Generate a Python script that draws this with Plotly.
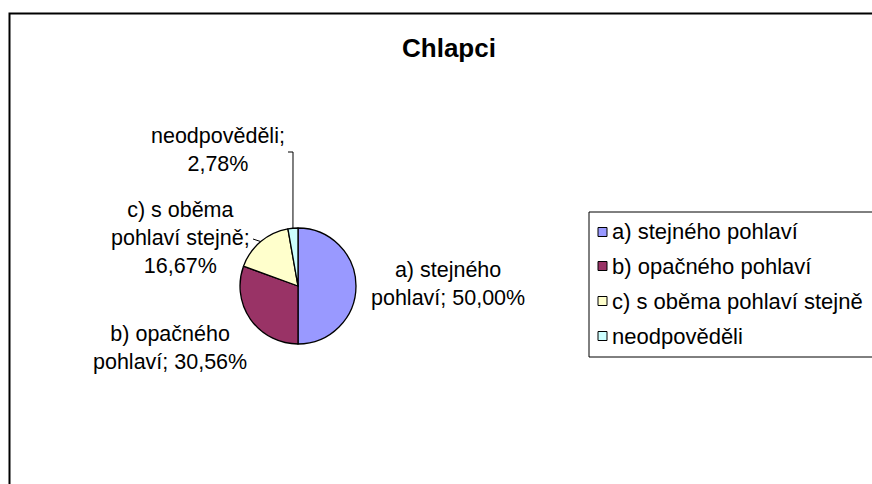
import math
import textwrap
import plotly.graph_objects as go

# ---- data ----
title_text = "Chlapci"
categories = ["a) stejného pohlaví", "b) opačného pohlaví",
              "c) s oběma pohlaví stejně", "neodpověděli"]
counts = [18, 11, 6, 1]
colors = ["#9999FF", "#993366", "#FFFFCC", "#CCFFFF"]

# ---- layout constants (pixels) ----
W, H = 872, 484
FONT = "Liberation Sans, Arial, sans-serif"
PIE_CX, PIE_CY, PIE_R = 298, 286, 58
# centres of the data-label text blocks
label_pos = [(448, 284), (170, 348), (180, 238), (218, 150)]
# where the leader lines end next to their labels (None = no leader)
leader_end = [None, None, [(253, 239)], [(293, 152), (288, 152)]]
LEG_X, LEG_TOP, LEG_BOTTOM = 589, 212, 357
leg_rows = [232, 266, 301, 336]


def px(x):
    return x / W


def py(y):
    return 1 - y / H


total = sum(counts)
pcts = [c / total * 100 for c in counts]
pct_txt = [f"{p:.2f}".replace(".", ",") + "%" for p in pcts]

fig = go.Figure()
fig.add_trace(go.Pie(
    labels=categories,
    values=counts,
    marker=dict(colors=colors, line=dict(color="#000000", width=1.3)),
    sort=False,
    direction="clockwise",
    rotation=0,
    textinfo="none",
    hoverinfo="label+percent",
    showlegend=False,
    domain=dict(x=[px(PIE_CX - PIE_R), px(PIE_CX + PIE_R)],
                y=[py(PIE_CY + PIE_R), py(PIE_CY - PIE_R)]),
))

shapes = []
annotations = []

# chart-area border (runs past the right and bottom edges)
shapes.append(dict(type="rect", xref="paper", yref="paper",
                   x0=px(9.5), x1=px(W + 20), y0=py(H + 20), y1=py(13.5),
                   line=dict(color="#000000", width=2), fillcolor="rgba(0,0,0,0)"))

# title
annotations.append(dict(text=title_text, xref="paper", yref="paper",
                        x=px(449), y=py(48), xanchor="center", yanchor="middle",
                        showarrow=False,
                        font=dict(family=FONT, size=26, color="#000000", weight="bold")))

# data labels and leader lines
cum = 0.0
for i, (cat, c) in enumerate(zip(categories, counts)):
    mid = (cum + c / 2) / total * 360.0
    cum += c
    ex = PIE_CX + PIE_R * math.sin(math.radians(mid))
    ey = PIE_CY - PIE_R * math.cos(math.radians(mid))
    lines = textwrap.wrap(f"{cat}; {pct_txt[i]}", width=15)
    lx, ly = label_pos[i]
    annotations.append(dict(text="<br>".join(lines), xref="paper", yref="paper",
                            x=px(lx), y=py(ly), xanchor="center", yanchor="middle",
                            align="center", showarrow=False,
                            font=dict(family=FONT, size=21.5, color="#000000")))
    if leader_end[i]:
        pts = [(ex, ey)] + leader_end[i]
        path = "M " + " L ".join(f"{px(x)},{py(y)}" for x, y in pts)
        shapes.append(dict(type="path", xref="paper", yref="paper", path=path,
                           line=dict(color="#000000", width=1)))

# legend box (runs past the right edge)
shapes.append(dict(type="rect", xref="paper", yref="paper",
                   x0=px(LEG_X), x1=px(W + 20), y0=py(LEG_BOTTOM), y1=py(LEG_TOP),
                   line=dict(color="#000000", width=1), fillcolor="#FFFFFF"))
for cat, col, ry in zip(categories, colors, leg_rows):
    shapes.append(dict(type="rect", xref="paper", yref="paper",
                       x0=px(598), x1=px(607), y0=py(ry + 4.5), y1=py(ry - 4.5),
                       line=dict(color="#000000", width=1), fillcolor=col))
    annotations.append(dict(text=cat, xref="paper", yref="paper",
                            x=px(610), y=py(ry), xanchor="left", yanchor="middle",
                            showarrow=False,
                            font=dict(family=FONT, size=22, color="#000000")))

fig.update_layout(
    width=W, height=H,
    margin=dict(l=0, r=0, t=0, b=0, pad=0, autoexpand=False),
    paper_bgcolor="#FFFFFF",
    plot_bgcolor="#FFFFFF",
    shapes=shapes,
    annotations=annotations,
    showlegend=False,
)

fig.write_html("out.html",
               config={"displayModeBar": False},
               post_script="document.body.style.margin='0';document.body.style.overflow='hidden';")
